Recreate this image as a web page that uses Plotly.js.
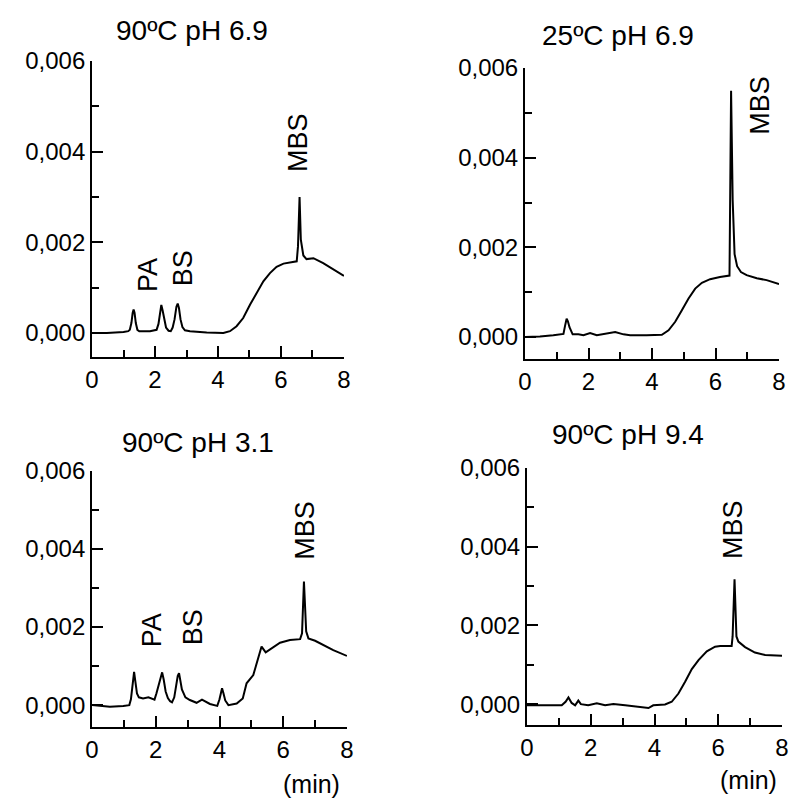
<!DOCTYPE html>
<html>
<head>
<meta charset="utf-8">
<script src="https://cdn.plot.ly/plotly-3.0.1.min.js"></script>
<style>html,body{margin:0;padding:0;background:#fff;}#chart{width:790px;height:798px;}</style>
</head>
<body>
<div id="chart"></div>
<script>
// Panel titles and axis labels
const panelTitles = ["90ºC pH 6.9", "25ºC pH 6.9", "90ºC pH 3.1", "90ºC pH 9.4"];
const xTickVals = [0, 2, 4, 6, 8];
const yTickVals = [0, 0.002, 0.004, 0.006];
const xUnitLabel = "(min)";

// Panel 1: 90ºC pH 6.9  (time in min, absorbance)
const t1 = [0, 0.47, 1.0, 1.15, 1.2, 1.25, 1.29, 1.32, 1.35, 1.39, 1.44, 1.5, 1.84, 2.05, 2.11, 2.16, 2.2, 2.24, 2.29, 2.35, 2.43, 2.5, 2.56, 2.62, 2.68, 2.72, 2.76, 2.81, 2.87, 2.95, 3.11, 3.64, 4.17, 4.38, 4.59, 4.8, 5.02, 5.23, 5.44, 5.65, 5.86, 6.08, 6.39, 6.5, 6.54, 6.59, 6.63, 6.71, 6.81, 7.03, 7.34, 7.66, 8.0];
const v1 = [0, 0, 0.00002, 0.00004, 0.00007, 0.00022, 0.00044, 0.00052, 0.00045, 0.00022, 0.00007, 0.00004, 0.00004, 0.00007, 0.00020, 0.00048, 0.00062, 0.00050, 0.00028, 0.00012, 0.00005, 0.00004, 0.00012, 0.00030, 0.00058, 0.00065, 0.00055, 0.00030, 0.00013, 0.00006, 0.00004, 0.00001, 0, 0.00004, 0.00015, 0.00033, 0.00063, 0.00088, 0.00114, 0.00132, 0.00146, 0.00153, 0.00156, 0.00158, 0.00191, 0.0030, 0.00206, 0.00171, 0.00163, 0.00165, 0.00154, 0.00140, 0.00126];

// Panel 2: 25ºC pH 6.9
const t2 = [0, 0.47, 0.89, 1.21, 1.26, 1.31, 1.35, 1.4, 1.5, 1.68, 1.84, 2.05, 2.26, 2.57, 2.84, 3.1, 3.31, 3.83, 4.31, 4.52, 4.73, 4.94, 5.15, 5.36, 5.57, 5.83, 6.14, 6.44, 6.49, 6.54, 6.6, 6.68, 6.8, 6.98, 7.3, 7.61, 8.0];
const v2 = [0, 0.00001, 0.00004, 0.00007, 0.00025, 0.00041, 0.00035, 0.00022, 0.00006, 0.00006, 0.00004, 0.00009, 0.00004, 0.00007, 0.00011, 0.00006, 0.00004, 0.00004, 0.00005, 0.00015, 0.00034, 0.00060, 0.00086, 0.00108, 0.00121, 0.00129, 0.00134, 0.00137, 0.00549, 0.00306, 0.00185, 0.00158, 0.00145, 0.00138, 0.00131, 0.00127, 0.00118];

// Panel 3: 90ºC pH 3.1
const t3 = [0, 0.56, 0.98, 1.17, 1.22, 1.27, 1.32, 1.36, 1.41, 1.47, 1.6, 1.77, 1.96, 2.02, 2.08, 2.13, 2.2, 2.25, 2.31, 2.38, 2.45, 2.51, 2.58, 2.64, 2.69, 2.73, 2.77, 2.82, 2.93, 3.07, 3.28, 3.45, 3.7, 3.93, 4.0, 4.05, 4.08, 4.12, 4.18, 4.28, 4.54, 4.73, 4.85, 5.06, 5.17, 5.32, 5.45, 5.64, 5.9, 6.21, 6.53, 6.59, 6.65, 6.72, 6.79, 7.0, 7.26, 7.57, 8.0];
const v3 = [0, -0.00004, -0.00002, 0, 0.00015, 0.00050, 0.00085, 0.00060, 0.00030, 0.00020, 0.00017, 0.00020, 0.00014, 0.00030, 0.00050, 0.00060, 0.00084, 0.00065, 0.00035, 0.00018, 0.00010, 0.00007, 0.00020, 0.00050, 0.00075, 0.00082, 0.00065, 0.00040, 0.00020, 0.00013, 0.00006, 0.00014, 0.00003, -0.00002, 0.00015, 0.00038, 0.00043, 0.00032, 0.00012, 0, 0.00004, 0.00017, 0.00056, 0.00077, 0.00107, 0.0015, 0.00135, 0.00146, 0.0016, 0.00167, 0.00169, 0.00184, 0.00317, 0.00189, 0.00171, 0.00165, 0.00154, 0.00141, 0.00126];

// Panel 4: 90ºC pH 9.4
const t4 = [0, 0.56, 1.09, 1.21, 1.3, 1.4, 1.51, 1.61, 1.69, 1.92, 2.19, 2.45, 2.71, 3.08, 3.49, 3.81, 3.96, 4.33, 4.54, 4.75, 4.96, 5.17, 5.38, 5.64, 5.9, 6.06, 6.42, 6.45, 6.51, 6.57, 6.63, 6.84, 7.15, 7.47, 8.0];
const v4 = [-0.00003, -0.00003, -0.00003, 0.00006, 0.00017, 0.00003, -0.00003, 0.00009, 0, -0.00003, 0.00002, -0.00003, 0, -0.00003, -0.00007, -0.0001, -0.00003, -0.00001, 0.00006, 0.00027, 0.00057, 0.00089, 0.00112, 0.00134, 0.00146, 0.00148, 0.00148, 0.00172, 0.00317, 0.00172, 0.00159, 0.00145, 0.00131, 0.00125, 0.00123];

// Peak labels: panel, text, x (min), y (absorbance)
const peakLabelPanel = [1, 1, 1, 2, 3, 3, 3, 4];
const peakLabelText = ["PA", "BS", "MBS", "MBS", "PA", "BS", "MBS", "MBS"];
const peakLabelX = [1.78, 2.89, 6.54, 7.40, 1.88, 3.17, 6.68, 6.46];
const peakLabelY = [0.00128, 0.00143, 0.00421, 0.00518, 0.00192, 0.00200, 0.00449, 0.00445];

const FONT = "Liberation Sans, Arial, Helvetica, sans-serif";
const INK = "#000";

const series = [[t1, v1], [t2, v2], [t3, v3], [t4, v4]];
const traces = series.map((s, i) => ({
  x: s[0], y: s[1], type: "scatter", mode: "lines",
  xaxis: i === 0 ? "x" : "x" + (i + 1),
  yaxis: i === 0 ? "y" : "y" + (i + 1),
  line: {color: INK, width: 2},
  hoverinfo: "skip", showlegend: false
}));

// domains (fractions of the 790x798 page)
const xDomains = [[0.1165, 0.4354], [0.6646, 0.9861], [0.1165, 0.4392], [0.6671, 0.9899]];
const yDomains = [[0.5526, 0.9236], [0.5501, 0.9148], [0.0890, 0.4098], [0.0915, 0.4135]];
const yLows = [-0.00053, -0.00049, -0.00056, -0.00053];

const layout = {
  width: 790, height: 798,
  margin: {l: 0, r: 0, t: 0, b: 0},
  paper_bgcolor: "#fff", plot_bgcolor: "rgba(0,0,0,0)",
  separators: ",.",
  font: {family: FONT, color: INK, size: 22},
  showlegend: false,
  annotations: []
};

function xAxis(i) {
  return {
    domain: xDomains[i], range: [0, 8], anchor: i === 0 ? "y" : "y" + (i + 1),
    showgrid: false, zeroline: false, showline: true, linecolor: INK, linewidth: 2,
    ticks: "inside", ticklen: 11, tickwidth: 2, tickcolor: INK,
    tickvals: xTickVals, ticktext: xTickVals.map(String),
    tickfont: {family: FONT, size: 24, color: INK},
    minor: {dtick: 1, tick0: 0, ticks: "inside", ticklen: 7, tickwidth: 2, tickcolor: INK},
    fixedrange: true
  };
}
function yAxis(i) {
  return {
    domain: yDomains[i], range: [yLows[i], 0.006], anchor: i === 0 ? "x" : "x" + (i + 1),
    showgrid: false, zeroline: false, showline: true, linecolor: INK, linewidth: 2,
    ticks: "inside", ticklen: 11, tickwidth: 2, tickcolor: INK,
    tickvals: yTickVals, tickformat: ".3f",
    tickfont: {family: FONT, size: 24, color: INK},
    minor: {dtick: 0.001, tick0: 0, ticks: "inside", ticklen: 7, tickwidth: 2, tickcolor: INK},
    fixedrange: true
  };
}
for (let i = 0; i < 4; i++) {
  const k = i === 0 ? "" : String(i + 1);
  layout["xaxis" + k] = xAxis(i);
  layout["yaxis" + k] = yAxis(i);
}

// panel titles
const titleX = [0.243, 0.782, 0.251, 0.795];
const titleY = [0.962, 0.956, 0.446, 0.455];
panelTitles.forEach((txt, i) => {
  layout.annotations.push({
    text: txt, xref: "paper", yref: "paper", x: titleX[i], y: titleY[i],
    xanchor: "center", yanchor: "middle", showarrow: false,
    font: {family: FONT, size: 28, color: INK}
  });
});

// peak labels
peakLabelText.forEach((txt, j) => {
  const p = peakLabelPanel[j];
  const k = p === 1 ? "" : String(p);
  layout.annotations.push({
    text: txt, xref: "x" + k, yref: "y" + k, x: peakLabelX[j], y: peakLabelY[j],
    xanchor: "center", yanchor: "middle", textangle: -90, showarrow: false,
    font: {family: FONT, size: 27, color: INK}
  });
});

// "(min)" unit labels under the bottom panels
[[0.394, 0.018], [0.948, 0.023]].forEach(pos => {
  layout.annotations.push({
    text: xUnitLabel, xref: "paper", yref: "paper", x: pos[0], y: pos[1],
    xanchor: "center", yanchor: "middle", showarrow: false,
    font: {family: FONT, size: 25, color: INK}
  });
});

Plotly.newPlot("chart", traces, layout, {staticPlot: true, displayModeBar: false});
</script>
</body>
</html>
